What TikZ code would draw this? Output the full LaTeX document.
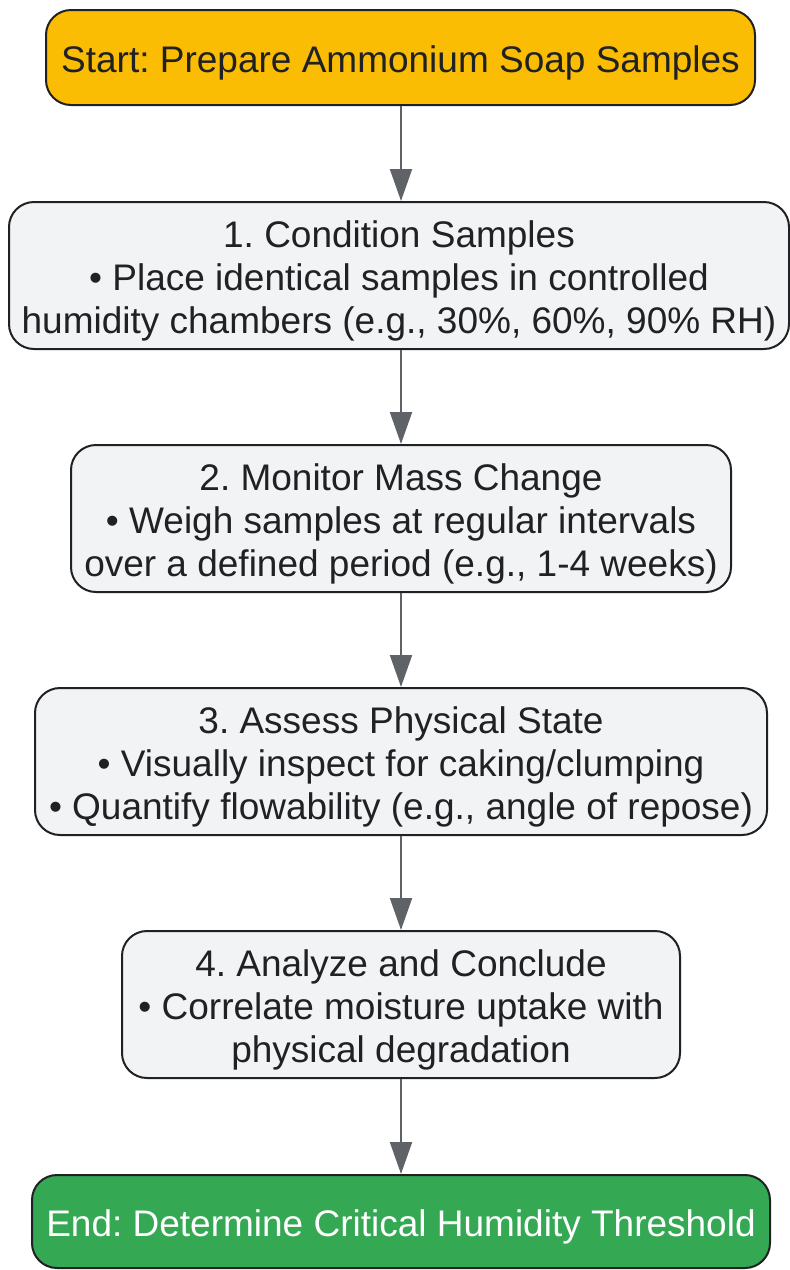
\documentclass[tikz,border=0pt]{standalone}
\usepackage{fontspec}
\setmainfont{Liberation Sans}
\usetikzlibrary{arrows.meta}
\definecolor{startorange}{HTML}{FBBC04}
\definecolor{endgreen}{HTML}{34A853}
\definecolor{stepgray}{HTML}{F1F3F4}
\definecolor{linedark}{HTML}{202124}
\definecolor{arrowgray}{HTML}{5F6368}
\newcommand*{\midx}{401pt}
\newcommand*{\boxht}{147pt}
\newcommand*{\capht}{95pt}
\frenchspacing

\begin{document}
\begin{tikzpicture}[x=1pt,y=-1pt,
    font=\fontsize{37}{43}\selectfont,
    box/.style={draw=linedark, line width=2pt, rounded corners=25pt, align=center,
                text=linedark, inner sep=0pt, minimum height=\boxht,
                execute at begin node=\rule{0pt}{37pt}},
    stepbox/.style={box, fill=stepgray, text height=123pt},
    flow/.style={draw=arrowgray, line width=2pt, -{Triangle[length=32pt,width=22pt]}}]
    \useasboundingbox (0,0) rectangle (790,1270);
    \node [box, fill=startorange, minimum width=709pt, minimum height=\capht] (start) at (400.5,57.5)
        {Start: Prepare Ammonium Soap Samples};
    \node [stepbox, minimum width=780pt] (cond) at (399,275.5)
        {1. Condition Samples\\ \textbullet\ Place identical samples in controlled\\ humidity chambers (e.g., 30\%, 60\%, 90\% RH)};
    \node [stepbox, minimum width=660pt] (mass) at (\midx,518.5)
        {2. Monitor Mass Change\\ \textbullet\ Weigh samples at regular intervals\\ over a defined period (e.g., 1-4 weeks)};
    \node [stepbox, minimum width=732pt] (state) at (\midx,761.5)
        {3. Assess Physical State\\ \textbullet\ Visually inspect for caking/clumping\\ \textbullet\ Quantify flowability (e.g., angle of repose)};
    \node [stepbox, minimum width=558pt] (concl) at (\midx,1004.5)
        {4. Analyze and Conclude\\ \textbullet\ Correlate moisture uptake with\\ physical degradation};
    \node [box, fill=endgreen, text=white, minimum width=738pt, minimum height=93pt] (end) at (\midx,1221.5)
        {End: Determine Critical Humidity Threshold};
    % connectors
    \draw [flow] (start.south -| \midx,0) -- (cond.north -| \midx,0);
    \draw [flow] (cond.south -| \midx,0) -- (mass.north);
    \draw [flow] (mass) -- (state);
    \draw [flow] (state) -- (concl);
    \draw [flow] (concl) -- (end);
\end{tikzpicture}
\end{document}
